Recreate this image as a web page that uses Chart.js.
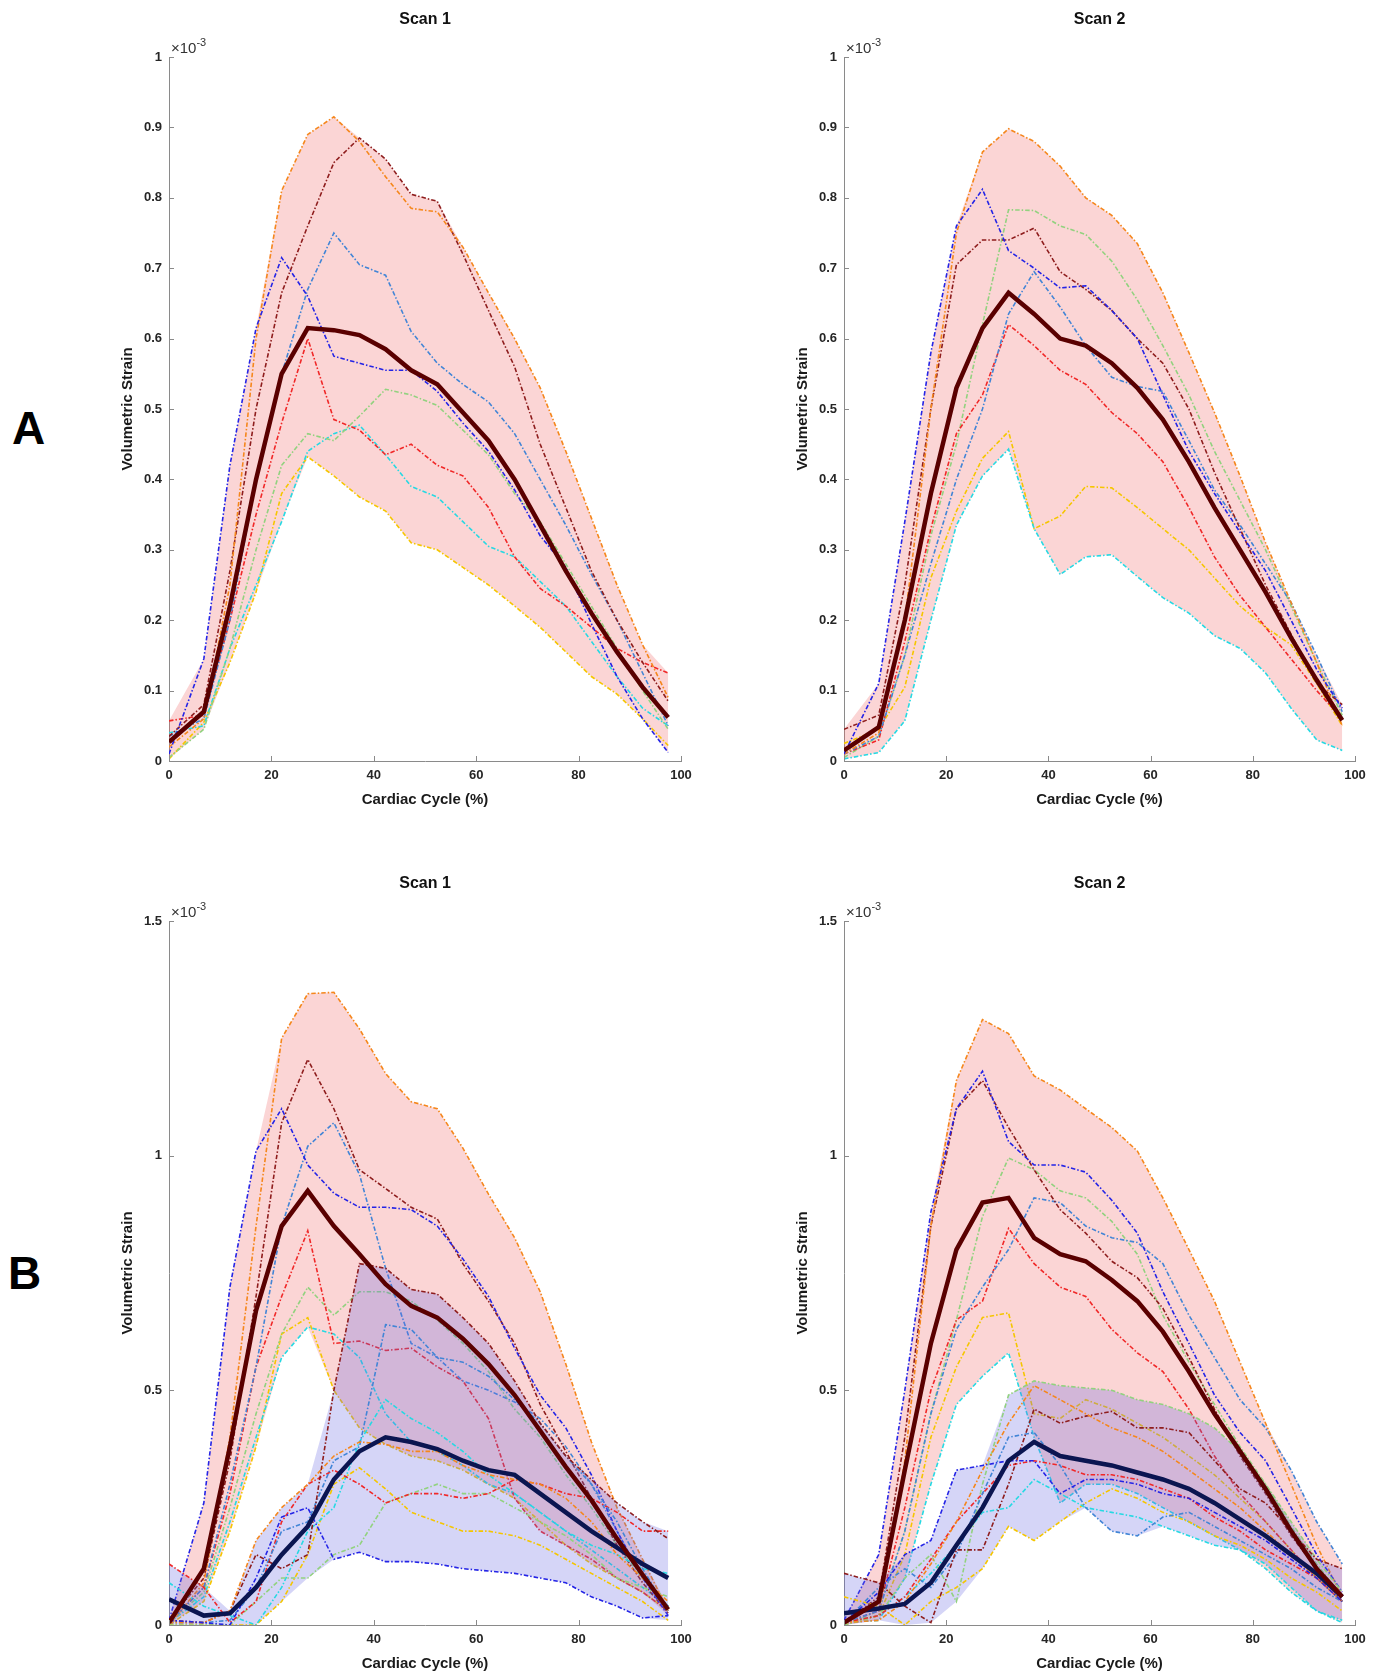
<!DOCTYPE html>
<html>
<head>
<meta charset="utf-8">
<script src="https://cdn.jsdelivr.net/npm/chart.js@4.4.0/dist/chart.umd.min.js"></script>
<style>
  body { margin: 0; background: #fff; overflow: hidden; }
  #page { position: relative; width: 1386px; height: 1675px; }
  canvas { position: absolute; }
  .letter { position: absolute; font: bold 46px "Liberation Sans", Arial, sans-serif; line-height: 1; color: #000; }
</style>
</head>
<body>
<div id="page">
  <div class="letter" style="left:12px; top:405px">A</div>
  <div class="letter" style="left:8px; top:1250px">B</div>
  <canvas id="a1"></canvas>
  <canvas id="a2"></canvas>
  <canvas id="b1"></canvas>
  <canvas id="b2"></canvas>
</div>
<script>
// ===== Data (volumetric strain, x10^-3) =====
const cycle = [0, 6.8, 11.9, 17, 22, 27.1, 32.2, 37.2, 42.3, 47.3, 52.4, 57.4, 62.4, 67.5, 72.5, 77.5, 82.5, 87.5, 92.5, 97.5];
const xTickValues = [0, 20, 40, 60, 80, 100];
const yTicksA = [0, 0.1, 0.2, 0.3, 0.4, 0.5, 0.6, 0.7, 0.8, 0.9, 1];
const yTicksB = [0, 0.5, 1, 1.5];

// subject order: blue, orange, maroon, steel blue, red, green, cyan, yellow
const a1Subjects = [
  [0.01, 0.145, 0.42, 0.615, 0.715, 0.66, 0.575, 0.565, 0.555, 0.555, 0.525, 0.48, 0.44, 0.385, 0.32, 0.275, 0.195, 0.12, 0.06, 0.012],
  [0.02, 0.06, 0.25, 0.6, 0.81, 0.89, 0.915, 0.88, 0.83, 0.785, 0.78, 0.73, 0.665, 0.6, 0.53, 0.44, 0.345, 0.25, 0.165, 0.09],
  [0.035, 0.08, 0.27, 0.5, 0.665, 0.76, 0.85, 0.885, 0.855, 0.805, 0.795, 0.72, 0.64, 0.56, 0.45, 0.36, 0.27, 0.2, 0.14, 0.085],
  [0.035, 0.06, 0.2, 0.4, 0.55, 0.67, 0.75, 0.705, 0.69, 0.61, 0.565, 0.535, 0.51, 0.465, 0.4, 0.335, 0.265, 0.2, 0.125, 0.05],
  [0.057, 0.065, 0.2, 0.35, 0.48, 0.6, 0.485, 0.47, 0.435, 0.45, 0.42, 0.405, 0.36, 0.29, 0.245, 0.22, 0.19, 0.16, 0.14, 0.125],
  [0.005, 0.045, 0.16, 0.3, 0.42, 0.465, 0.455, 0.49, 0.528, 0.52, 0.505, 0.47, 0.435, 0.38, 0.34, 0.28, 0.22, 0.16, 0.1, 0.045],
  [0.04, 0.05, 0.16, 0.25, 0.34, 0.44, 0.465, 0.477, 0.435, 0.39, 0.375, 0.34, 0.305, 0.29, 0.255, 0.22, 0.17, 0.12, 0.075, 0.05],
  [0.003, 0.055, 0.14, 0.24, 0.38, 0.432, 0.405, 0.375, 0.355, 0.31, 0.3, 0.275, 0.25, 0.22, 0.19, 0.155, 0.12, 0.095, 0.06, 0.022]
];
const a1Mean = [0.027, 0.07, 0.22, 0.4, 0.55, 0.615, 0.612, 0.605, 0.585, 0.555, 0.535, 0.495, 0.455, 0.4, 0.335, 0.27, 0.21, 0.155, 0.105, 0.062];

const a2Subjects = [
  [0.01, 0.11, 0.34, 0.58, 0.76, 0.812, 0.725, 0.7, 0.672, 0.675, 0.64, 0.6, 0.52, 0.44, 0.38, 0.325, 0.27, 0.2, 0.13, 0.075],
  [0.01, 0.04, 0.2, 0.5, 0.75, 0.865, 0.898, 0.88, 0.845, 0.8, 0.775, 0.735, 0.665, 0.58, 0.495, 0.405, 0.31, 0.225, 0.14, 0.05],
  [0.045, 0.065, 0.25, 0.5, 0.705, 0.74, 0.74, 0.757, 0.695, 0.67, 0.64, 0.6, 0.565, 0.5, 0.41, 0.33, 0.25, 0.18, 0.11, 0.08],
  [0.01, 0.035, 0.15, 0.28, 0.4, 0.5, 0.635, 0.695, 0.645, 0.59, 0.545, 0.532, 0.525, 0.455, 0.385, 0.335, 0.28, 0.225, 0.15, 0.07],
  [0.01, 0.03, 0.17, 0.33, 0.465, 0.52, 0.62, 0.59, 0.555, 0.535, 0.495, 0.465, 0.425, 0.36, 0.29, 0.235, 0.19, 0.145, 0.1, 0.06],
  [0.005, 0.035, 0.15, 0.32, 0.45, 0.62, 0.783, 0.782, 0.76, 0.748, 0.71, 0.655, 0.59, 0.52, 0.44, 0.37, 0.3, 0.22, 0.14, 0.065],
  [0.003, 0.012, 0.057, 0.2, 0.335, 0.405, 0.443, 0.33, 0.265, 0.29, 0.293, 0.262, 0.232, 0.21, 0.178, 0.16, 0.125, 0.075, 0.03, 0.015],
  [0.025, 0.045, 0.105, 0.26, 0.355, 0.43, 0.468, 0.33, 0.348, 0.39, 0.388, 0.36, 0.33, 0.3, 0.26, 0.22, 0.19, 0.165, 0.11, 0.05]
];
const a2Mean = [0.015, 0.048, 0.2, 0.38, 0.53, 0.615, 0.665, 0.635, 0.6, 0.59, 0.565, 0.53, 0.485, 0.425, 0.36, 0.3, 0.24, 0.175, 0.115, 0.058];

const b1RedSubjects = [
  [0.01, 0.26, 0.72, 1.01, 1.1, 0.98, 0.92, 0.89, 0.89, 0.885, 0.85, 0.78, 0.7, 0.59, 0.49, 0.42, 0.32, 0.2, 0.1, 0.02],
  [0.0, 0.09, 0.4, 0.85, 1.25, 1.345, 1.348, 1.27, 1.175, 1.115, 1.1, 1.016, 0.918, 0.825, 0.71, 0.556, 0.39, 0.25, 0.14, 0.03],
  [0.01, 0.1, 0.35, 0.7, 1.07, 1.205, 1.1, 0.97, 0.93, 0.89, 0.865, 0.77, 0.69, 0.6, 0.47, 0.37, 0.27, 0.17, 0.09, 0.025],
  [0.005, 0.08, 0.3, 0.55, 0.85, 1.02, 1.07, 0.96, 0.76, 0.6, 0.57, 0.52, 0.5, 0.475, 0.44, 0.38, 0.3, 0.2, 0.1, 0.04],
  [0.005, 0.08, 0.28, 0.55, 0.7, 0.84, 0.6, 0.605, 0.585, 0.59, 0.55, 0.52, 0.44, 0.27, 0.2, 0.17, 0.14, 0.1, 0.07, 0.03],
  [0.005, 0.07, 0.25, 0.45, 0.62, 0.72, 0.66, 0.71, 0.71, 0.69, 0.65, 0.6, 0.54, 0.46, 0.4, 0.32, 0.25, 0.17, 0.1, 0.04],
  [0.005, 0.06, 0.22, 0.4, 0.57, 0.635, 0.62, 0.57, 0.45, 0.39, 0.37, 0.34, 0.3, 0.28, 0.24, 0.2, 0.16, 0.12, 0.08, 0.04],
  [0.0, 0.05, 0.2, 0.38, 0.62, 0.655, 0.5, 0.42, 0.385, 0.36, 0.35, 0.33, 0.3, 0.27, 0.22, 0.17, 0.13, 0.1, 0.07, 0.03]
];
const b1RedMean = [0.005, 0.12, 0.38, 0.67, 0.85, 0.925, 0.85, 0.79, 0.726, 0.68, 0.655, 0.61, 0.556, 0.49, 0.414, 0.337, 0.266, 0.184, 0.107, 0.033];

const b1BlueSubjects = [
  [0.01, 0.005, 0.0, 0.1, 0.23, 0.25, 0.14, 0.155, 0.135, 0.135, 0.13, 0.12, 0.115, 0.11, 0.1, 0.09, 0.06, 0.04, 0.015, 0.02],
  [0.005, 0.005, 0.03, 0.18, 0.25, 0.3, 0.36, 0.39, 0.385, 0.37, 0.37, 0.34, 0.32, 0.31, 0.3, 0.27, 0.22, 0.15, 0.1, 0.05],
  [0.01, 0.005, 0.03, 0.15, 0.12, 0.15, 0.5, 0.77, 0.76, 0.715, 0.705, 0.655, 0.6, 0.52, 0.43, 0.36, 0.31, 0.26, 0.22, 0.184],
  [0.005, 0.005, 0.01, 0.08, 0.2, 0.22, 0.35, 0.38, 0.64, 0.63, 0.57, 0.56, 0.53, 0.48, 0.43, 0.36, 0.3, 0.22, 0.12, 0.03],
  [0.13, 0.08, 0.005, 0.05, 0.22, 0.3, 0.33, 0.3, 0.26, 0.28, 0.28, 0.27, 0.28, 0.31, 0.3, 0.28, 0.27, 0.24, 0.2, 0.2],
  [0.0, 0.0, 0.0, 0.05, 0.1, 0.1, 0.15, 0.17, 0.26, 0.28, 0.3, 0.28, 0.28, 0.25, 0.22, 0.19, 0.15, 0.1, 0.08, 0.06],
  [0.09, 0.04, 0.02, 0.0, 0.08, 0.2, 0.25, 0.39, 0.48, 0.44, 0.41, 0.37, 0.32, 0.28, 0.24, 0.2, 0.17, 0.15, 0.12, 0.11],
  [0.0, 0.0, 0.0, 0.0, 0.05, 0.15, 0.3, 0.335, 0.29, 0.24, 0.22, 0.2, 0.2, 0.19, 0.17, 0.14, 0.11, 0.08, 0.05, 0.01]
];
const b1BlueMean = [0.055, 0.02, 0.025, 0.08, 0.15, 0.21, 0.31, 0.37, 0.4, 0.39, 0.375, 0.35, 0.33, 0.32, 0.28, 0.24, 0.2, 0.165, 0.13, 0.1];

const b2RedSubjects = [
  [0.01, 0.15, 0.5, 0.88, 1.1, 1.18, 1.03, 0.98, 0.98, 0.965, 0.905, 0.835, 0.71, 0.6, 0.49, 0.41, 0.35, 0.25, 0.15, 0.07],
  [0.0, 0.02, 0.35, 0.85, 1.16, 1.29, 1.26, 1.17, 1.14, 1.1, 1.06, 1.01, 0.91, 0.8, 0.69, 0.56, 0.43, 0.3, 0.17, 0.06],
  [0.005, 0.06, 0.4, 0.85, 1.1, 1.16, 1.06, 0.97, 0.885, 0.835, 0.775, 0.74, 0.675, 0.57, 0.46, 0.36, 0.28, 0.19, 0.12, 0.05],
  [0.005, 0.03, 0.2, 0.45, 0.63, 0.72, 0.8, 0.91, 0.9, 0.85, 0.825, 0.815, 0.77, 0.66, 0.57, 0.48, 0.42, 0.33, 0.22, 0.13],
  [0.005, 0.03, 0.25, 0.5, 0.65, 0.69, 0.845, 0.77, 0.72, 0.7, 0.63, 0.58, 0.54, 0.46, 0.36, 0.28, 0.22, 0.16, 0.1, 0.05],
  [0.0, 0.03, 0.2, 0.45, 0.65, 0.87, 0.995, 0.97, 0.925, 0.91, 0.86, 0.79, 0.66, 0.56, 0.47, 0.38, 0.3, 0.21, 0.13, 0.06],
  [0.005, 0.01, 0.1, 0.3, 0.47, 0.53, 0.58, 0.4, 0.26, 0.3, 0.3, 0.28, 0.25, 0.22, 0.19, 0.16, 0.12, 0.07, 0.03, 0.005],
  [0.005, 0.02, 0.15, 0.4, 0.55, 0.655, 0.665, 0.45, 0.44, 0.48, 0.46, 0.43, 0.4, 0.36, 0.32, 0.27, 0.22, 0.16, 0.1, 0.05]
];
const b2RedMean = [0.005, 0.05, 0.33, 0.6, 0.8, 0.9, 0.91, 0.825, 0.79, 0.775, 0.735, 0.69, 0.625, 0.54, 0.45, 0.37, 0.29, 0.2, 0.12, 0.06];

const b2BlueSubjects = [
  [0.005, 0.07, 0.15, 0.18, 0.33, 0.34, 0.35, 0.35, 0.28, 0.31, 0.31, 0.3, 0.28, 0.27, 0.24, 0.21, 0.18, 0.14, 0.1, 0.05],
  [0.005, 0.01, 0.05, 0.13, 0.22, 0.33, 0.43, 0.51, 0.48, 0.45, 0.42, 0.4, 0.37, 0.33, 0.29, 0.25, 0.2, 0.15, 0.1, 0.05],
  [0.11, 0.09, 0.04, 0.005, 0.16, 0.16, 0.3, 0.46, 0.43, 0.445, 0.455, 0.42, 0.42, 0.41, 0.35, 0.29, 0.26, 0.2, 0.14, 0.12],
  [0.005, 0.08, 0.12, 0.08, 0.15, 0.28, 0.4, 0.41, 0.34, 0.25, 0.2, 0.19, 0.23, 0.24, 0.21, 0.18, 0.15, 0.12, 0.08, 0.05],
  [0.005, 0.02, 0.06, 0.14, 0.22, 0.28, 0.34, 0.35, 0.34, 0.32, 0.32, 0.31, 0.29, 0.27, 0.23, 0.2, 0.16, 0.13, 0.1, 0.06],
  [0.0, 0.02, 0.1, 0.15, 0.05, 0.3, 0.49, 0.52, 0.51, 0.505, 0.5, 0.48, 0.47, 0.45, 0.42, 0.37, 0.3, 0.22, 0.14, 0.07],
  [0.005, 0.02, 0.06, 0.11, 0.17, 0.24, 0.25, 0.31, 0.28, 0.25, 0.24, 0.23, 0.21, 0.19, 0.17, 0.16, 0.13, 0.08, 0.03, 0.01],
  [0.06, 0.04, 0.0, 0.05, 0.08, 0.12, 0.21, 0.18, 0.22, 0.26, 0.29, 0.27, 0.24, 0.22, 0.19, 0.17, 0.14, 0.1, 0.07, 0.03]
];
const b2BlueMean = [0.025, 0.035, 0.045, 0.09, 0.17, 0.25, 0.35, 0.39, 0.36, 0.35, 0.34, 0.325, 0.31, 0.29, 0.26, 0.225, 0.19, 0.15, 0.11, 0.06];

// ===== Styles =====
const FONT = '"Liberation Sans", Arial, Helvetica, sans-serif';
const subjectColors = ['#2424e6', '#f5871c', '#8e1d1d', '#4285d6', '#f02828', '#92d27f', '#26d9e3', '#f5c600'];
const RED_GROUP = { shade: 'rgba(240,105,105,0.28)', meanColor: '#5a0000' };
const BLUE_GROUP = { shade: 'rgba(105,105,225,0.28)', meanColor: '#0b1551' };

const toPoints = arr => arr.map((v, i) => ({ x: cycle[i], y: v }));

// ===== Matlab-like axes decorations =====
const matlabAxes = {
  id: 'matlabAxes',
  afterDraw(chart, args, opts) {
    const { ctx, chartArea: a, scales: { x, y } } = chart;
    ctx.save();
    ctx.strokeStyle = '#8a8a8a';
    ctx.lineWidth = 1;
    ctx.beginPath();
    x.ticks.forEach(t => {
      const px = Math.round(x.getPixelForValue(t.value)) + 0.5;
      ctx.moveTo(px, a.bottom);
      ctx.lineTo(px, a.bottom - 5);
    });
    y.ticks.forEach(t => {
      const py = Math.round(y.getPixelForValue(t.value)) + 0.5;
      ctx.moveTo(a.left, py);
      ctx.lineTo(a.left + 5, py);
    });
    ctx.stroke();

    ctx.fillStyle = '#111';
    ctx.font = 'bold 16px ' + FONT;
    ctx.textAlign = 'center';
    ctx.textBaseline = 'middle';
    ctx.fillText(opts.text, (a.left + a.right) / 2, a.top - 37);

    ctx.fillStyle = '#333';
    ctx.font = '15px ' + FONT;
    ctx.textAlign = 'left';
    ctx.textBaseline = 'alphabetic';
    ctx.fillText('\u00d710', a.left + 2, a.top - 4);
    const w = ctx.measureText('\u00d710').width;
    ctx.font = '11px ' + FONT;
    ctx.fillText('-3', a.left + 2 + w, a.top - 11);
    ctx.restore();
  }
};

// ===== Build one subplot =====
function makePanel(id, box, title, yTicks, groups) {
  const canvas = document.getElementById(id);
  canvas.width = box.r - box.l + 120;
  canvas.height = box.b - box.t + 57 + 49;
  canvas.style.left = (box.l - 100) + 'px';
  canvas.style.top = (box.t - 57) + 'px';

  const datasets = [];
  groups.forEach((g, gi) => {
    const base = (groups.length - gi) * 20; // earlier groups drawn underneath
    const maxArr = cycle.map((_, i) => Math.max(...g.subjects.map(s => s[i])));
    const minArr = cycle.map((_, i) => Math.min(...g.subjects.map(s => s[i])));
    datasets.push({ data: toPoints(maxArr), borderColor: 'transparent', borderWidth: 0, pointRadius: 0, fill: false, order: base + 10 });
    datasets.push({ data: toPoints(minArr), borderColor: 'transparent', borderWidth: 0, pointRadius: 0, fill: '-1', backgroundColor: g.shade, order: base + 10 });
    g.subjects.forEach((s, si) => {
      datasets.push({
        data: toPoints(s),
        borderColor: subjectColors[si],
        borderWidth: 1.6,
        borderDash: [4.5, 2, 1.5, 2],
        pointRadius: 0,
        fill: false,
        order: base
      });
    });
  });
  groups.forEach(g => {
    datasets.push({ data: toPoints(g.mean), borderColor: g.meanColor, borderWidth: 4.5, pointRadius: 0, fill: false, order: 0 });
  });

  const tickFont = { family: FONT, size: 13, weight: 'bold' };
  const titleFont = { family: FONT, size: 15, weight: 'bold' };

  new Chart(canvas, {
    type: 'line',
    data: { datasets },
    options: {
      responsive: false,
      animation: false,
      events: [],
      layout: { padding: { left: 48, top: 57, right: 20, bottom: 0 } },
      plugins: {
        legend: { display: false },
        tooltip: { enabled: false },
        matlabAxes: { text: title }
      },
      scales: {
        x: {
          type: 'linear',
          min: 0,
          max: 100,
          afterBuildTicks: s => { s.ticks = xTickValues.map(v => ({ value: v })); },
          afterFit: s => { s.height = 49; },
          ticks: { font: tickFont, color: '#262626', padding: 7, maxRotation: 0 },
          grid: { drawOnChartArea: false, drawTicks: false },
          border: { display: true, color: '#8a8a8a', width: 1 },
          title: { display: true, text: 'Cardiac Cycle (%)', font: titleFont, color: '#1a1a1a', padding: { top: 0, bottom: 1 } }
        },
        y: {
          min: 0,
          max: yTicks[yTicks.length - 1],
          afterBuildTicks: s => { s.ticks = yTicks.map(v => ({ value: v })); },
          afterFit: s => { s.width = 52; },
          ticks: { font: tickFont, color: '#262626', padding: 7, callback: v => String(+v.toFixed(2)) },
          grid: { drawOnChartArea: false, drawTicks: false },
          border: { display: true, color: '#8a8a8a', width: 1 },
          title: { display: true, text: 'Volumetric Strain', font: titleFont, color: '#1a1a1a', padding: { top: 2, bottom: 2 } }
        }
      }
    },
    plugins: [matlabAxes]
  });
}

makePanel('a1', { l: 169, r: 681, t: 57, b: 761 }, 'Scan 1', yTicksA,
  [{ subjects: a1Subjects, mean: a1Mean, ...RED_GROUP }]);
makePanel('a2', { l: 844, r: 1355, t: 57, b: 761 }, 'Scan 2', yTicksA,
  [{ subjects: a2Subjects, mean: a2Mean, ...RED_GROUP }]);
makePanel('b1', { l: 169, r: 681, t: 921, b: 1625 }, 'Scan 1', yTicksB,
  [{ subjects: b1RedSubjects, mean: b1RedMean, ...RED_GROUP },
   { subjects: b1BlueSubjects, mean: b1BlueMean, ...BLUE_GROUP }]);
makePanel('b2', { l: 844, r: 1355, t: 921, b: 1625 }, 'Scan 2', yTicksB,
  [{ subjects: b2RedSubjects, mean: b2RedMean, ...RED_GROUP },
   { subjects: b2BlueSubjects, mean: b2BlueMean, ...BLUE_GROUP }]);
</script>
</body>
</html>
